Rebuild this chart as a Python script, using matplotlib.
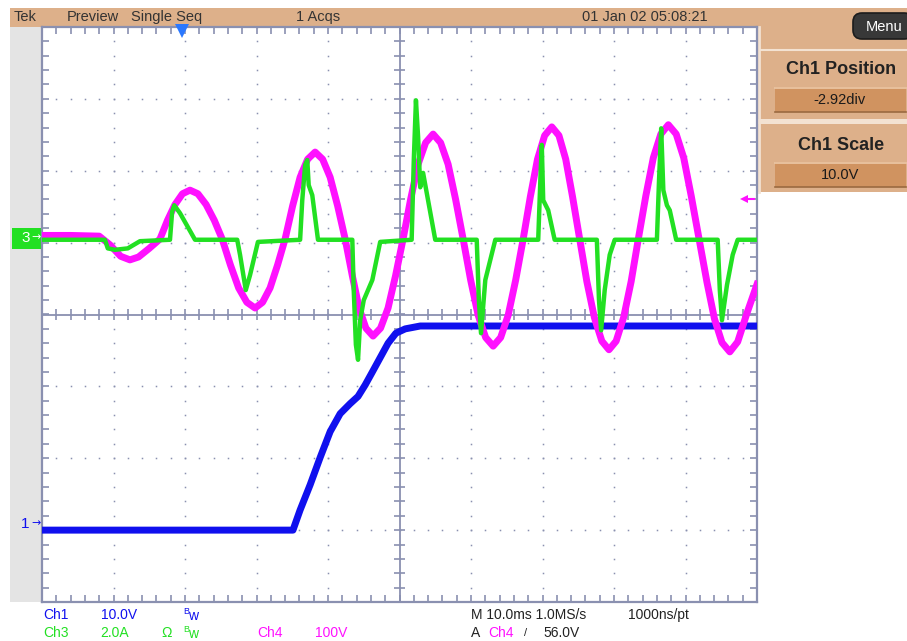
"""
示波器截图复刻 (Tek 单次采集)
"""

import matplotlib
matplotlib.use('Agg')
import matplotlib.pyplot as plt
from matplotlib.patches import Rectangle, FancyBboxPatch
import numpy as np

plt.rcParams['font.family'] = ['Liberation Sans', 'DejaVu Sans']

# 时间 (ms, 10ms/div), 幅值 (div)
pink_t = [0, 4, 8, 9.5, 11, 12.3, 13.5, 15,
          16.5, 17.55, 18.6, 19.65, 20.7, 21.8, 22.95, 24.1,
          25.2, 26.35, 27.5, 28.65, 29.8, 30.85, 31.9, 32.95,
          34.0, 35.05, 36.1, 37.15, 38.2, 39.25, 40.3, 41.35,
          42.4, 43.4, 44.35, 45.3, 46.3, 47.35, 48.4, 49.45,
          50.5, 51.55, 52.6, 53.65, 54.7, 55.75, 56.8, 57.85,
          58.9, 59.95, 61.0, 62.05, 63.1, 64.15, 65.2, 66.25,
          67.3, 68.3, 69.3, 70.3, 71.3, 72.3, 73.25, 74.2,
          75.2, 76.2, 77.25, 78.3, 79.3, 80.3, 81.35, 82.4,
          83.4, 84.45, 85.5, 86.55, 87.6, 88.7, 89.75, 90.8,
          91.9, 93.0, 94.05, 95.1, 96.2, 97.3, 98.6, 100]
pink_v = [1.10, 1.10, 1.09, 0.97, 0.81, 0.76, 0.80, 0.92,
          1.05, 1.31, 1.53, 1.68, 1.73, 1.68, 1.53, 1.31,
          1.05, 0.69, 0.37, 0.17, 0.09, 0.17, 0.37, 0.69,
          1.05, 1.51, 1.91, 2.16, 2.26, 2.16, 1.91, 1.51,
          1.05, 0.54, 0.09, -0.19, -0.30, -0.19, 0.09, 0.54,
          1.05, 1.60, 2.09, 2.39, 2.51, 2.39, 2.09, 1.60,
          1.05, 0.48, -0.01, -0.32, -0.44, -0.32, -0.01, 0.48,
          1.05, 1.64, 2.16, 2.49, 2.61, 2.49, 2.16, 1.64,
          1.05, 0.46, -0.04, -0.37, -0.49, -0.37, -0.04, 0.46,
          1.05, 1.65, 2.18, 2.51, 2.64, 2.51, 2.18, 1.65,
          1.05, 0.45, -0.06, -0.39, -0.52, -0.38, 0.02, 0.42]

green_t = [0, 8.8, 9.2, 10.2, 12.0, 13.7, 17.9, 18.2, 18.5, 19.3, 21.4,
           27.3, 27.7, 28.5, 29.1, 30.2, 36.1, 36.4, 36.8, 37.1, 37.3, 37.8, 38.6,
           43.4, 43.6, 43.9, 44.2, 44.5, 45.0, 46.2, 47.3, 51.7, 52.0, 52.3, 52.6,
           52.9, 53.3, 55.0, 60.8, 61.1, 61.4, 62.0, 62.7, 63.4, 69.4, 69.7, 69.9,
           70.1, 70.8, 71.7, 77.6, 77.9, 78.2, 78.7, 79.4, 80.1, 86.0, 86.3, 86.6,
           86.9, 87.4, 87.8, 88.7, 94.5, 94.8, 95.1, 95.8, 96.6, 97.3, 100]
green_v = [1.04, 1.04, 0.92, 0.90, 0.92, 1.02, 1.04, 1.43, 1.52, 1.41, 1.04,
           1.04, 0.83, 0.34, 0.55, 1.01, 1.04, 1.59, 2.08, 2.15, 1.80, 1.66, 1.04,
           1.04, 0.34, -0.42, -0.63, -0.08, 0.20, 0.48, 1.01, 1.04, 2.15, 2.98, 2.47,
           1.77, 1.97, 1.04, 1.04, 0.20, -0.26, 0.48, 0.76, 1.04, 1.04, 1.87, 2.36,
           1.59, 1.45, 1.04, 1.04, 0.20, -0.22, 0.34, 0.83, 1.04, 1.04, 1.87, 2.59,
           1.73, 1.52, 1.45, 1.04, 1.04, 0.34, -0.08, 0.41, 0.83, 1.04, 1.04]

blue_t = [0, 35.1, 36.1, 37.5, 38.9, 40.3, 41.7, 43.1, 44.2, 45.2, 46.2, 47.3,
          48.4, 49.5, 50.8, 52.9, 100]
blue_v = [-3.00, -3.00, -2.72, -2.37, -1.99, -1.63, -1.38, -1.24, -1.14, -0.98, -0.80, -0.60,
          -0.40, -0.26, -0.20, -0.16, -0.16]

trig_time = 19.6
trig_level = 1.61

TAN = '#ddb08a'
BOX = '#d09360'
GRID = '#8a90b0'
BLUE = '#1010ee'
PINK = '#ff10ff'
GREEN = '#22e022'
W, H = 907, 641


def draw_grid(ax):
    """网格、中心十字和边框刻度"""
    dots_y = np.arange(-4, 4.001, 0.2)
    dots_x = np.arange(0, 100.001, 2)
    for i in range(1, 10):
        if i == 5:
            continue
        ax.plot([i * 10] * len(dots_y), dots_y, ls='none', marker='s', ms=1.1,
                mew=0, color=GRID, zorder=1)
    for j in range(-3, 4):
        if j == 0:
            continue
        ax.plot(dots_x, [j] * len(dots_x), ls='none', marker='s', ms=1.1,
                mew=0, color=GRID, zorder=1)

    ax.axvline(50, color=GRID, lw=1.3, zorder=1)
    ax.axhline(0, color=GRID, lw=1.3, zorder=1)
    ax.hlines(dots_y, 49.2, 50.8, color=GRID, lw=1.2, zorder=1)
    ax.vlines(dots_x, -0.07, 0.07, color=GRID, lw=1.2, zorder=1)
    # 边框内侧刻度
    ax.vlines(dots_x, 3.9, 4, color=GRID, lw=1.2, zorder=1)
    ax.vlines(dots_x, -4, -3.9, color=GRID, lw=1.2, zorder=1)
    ax.hlines(dots_y, 0, 1.0, color=GRID, lw=1.2, zorder=1)
    ax.hlines(dots_y, 99.0, 100, color=GRID, lw=1.2, zorder=1)


def draw_frame(bg):
    """顶部状态栏、右侧菜单、底部通道信息"""
    bg.add_patch(Rectangle((10, 8), W - 10, 19, fc=TAN, ec='none'))
    bg.add_patch(Rectangle((10, 27), 32, 575, fc='#e4e4e4', ec='none'))
    bg.add_patch(Rectangle((757, 27), W - 757, 165, fc=TAN, ec='none'))
    bg.add_patch(Rectangle((757, 119), W - 757, 5, fc='#f3e2d2', ec='none'))
    bg.plot([760, 907], [49.5, 49.5], color='#f3e2d2', lw=1.5)
    bg.plot([759, 759], [27, 192], color='#f3e2d2', lw=2)

    top = dict(fontsize=10.5, color='#333333', va='center', ha='left')
    bg.text(14, 17, 'Tek', **top)
    bg.text(67, 17, 'Preview', **top)
    bg.text(131, 17, 'Single Seq', **top)
    bg.text(296, 17, '1 Acqs', **top)
    bg.text(582, 17, '01 Jan 02 05:08:21', **top)

    bg.add_patch(FancyBboxPatch((853, 13), 60, 26, boxstyle='round,pad=0,rounding_size=9',
                                fc='#383838', ec='#1c1c1c', lw=1.2))
    bg.text(866, 27, 'Menu', fontsize=10.5, color='white', va='center', ha='left')

    for ty, by, title, value in [(70, 87, 'Ch1 Position', '-2.92div'),
                                 (145, 162, 'Ch1 Scale', '10.0V')]:
        bg.text(841, ty, title, fontsize=13, fontweight='bold', color='#222222',
                va='center', ha='center')
        bg.add_patch(Rectangle((775, by), 131, 25, fc=BOX, ec='none'))
        bg.plot([775, 906], [by + 0.5, by + 0.5], color='#ecc9a8', lw=1.2)
        bg.plot([775, 906], [by + 25, by + 25], color='#9a6a40', lw=1.2)
        bg.text(840, by + 13, value, fontsize=10.5, color='#1a1a1a', va='center', ha='center')

    # 通道标记
    bg.add_patch(Rectangle((12, 228), 30, 21, fc=GREEN, ec='none'))
    bg.text(21, 238.5, '3', fontsize=11, color='white', va='center', ha='left')
    bg.text(31, 237.5, '→', fontsize=8, color='white', va='center', ha='left',
            family=['DejaVu Sans'])
    bg.text(21, 524, '1', fontsize=11, color=BLUE, va='center', ha='left')
    bg.text(31, 523, '→', fontsize=8, color=BLUE, va='center', ha='left',
            family=['DejaVu Sans'])

    row = dict(fontsize=10, va='center', ha='left')
    bg.text(43, 615, 'Ch1', color=BLUE, **row)
    bg.text(101, 615, '10.0V', color=BLUE, **row)
    bg.text(183, 611, 'B', color=BLUE, fontsize=6.5, va='center', ha='left')
    bg.text(188, 616, 'w', color=BLUE, **row)
    bg.text(43, 633, 'Ch3', color=GREEN, **row)
    bg.text(100, 633, '2.0A', color=GREEN, **row)
    bg.text(161, 633, 'Ω', color=GREEN, **row)
    bg.text(183, 629, 'B', color=GREEN, fontsize=6.5, va='center', ha='left')
    bg.text(188, 634, 'w', color=GREEN, **row)
    bg.text(257, 633, 'Ch4', color=PINK, **row)
    bg.text(315, 633, '100V', color=PINK, **row)
    bg.text(471, 615, 'M 10.0ms 1.0MS/s', color='#222222', **row)
    bg.text(628, 615, '1000ns/pt', color='#222222', **row)
    bg.text(471, 633, 'A', color='#222222', **row)
    bg.text(488, 633, 'Ch4', color=PINK, **row)
    bg.text(524, 633, '/', color='#222222', fontsize=8, va='center', ha='left')
    bg.text(543, 633, '56.0V', color='#222222', **row)


def main():
    fig = plt.figure(figsize=(W / 100, H / 100), dpi=100, facecolor='white')

    bg = fig.add_axes([0, 0, 1, 1], zorder=0)
    bg.set_xlim(0, W)
    bg.set_ylim(H, 0)
    bg.axis('off')
    draw_frame(bg)

    ax = fig.add_axes([42 / W, (H - 602) / H, 715 / W, 575 / H], zorder=2)
    ax.set_xlim(0, 100)
    ax.set_ylim(-4, 4)
    ax.set_facecolor('white')
    ax.set_xticks([])
    ax.set_yticks([])
    for sp in ax.spines.values():
        sp.set_color(GRID)
        sp.set_linewidth(1.6)
    draw_grid(ax)

    ax.plot(blue_t, blue_v, color=BLUE, lw=5, zorder=3, solid_joinstyle='round')
    ax.plot(pink_t, pink_v, color=PINK, lw=5, zorder=4, solid_joinstyle='round')
    ax.plot(green_t, green_v, color=GREEN, lw=3.2, zorder=5, solid_joinstyle='round')

    # 触发位置与电平
    ax.plot([trig_time], [3.95], marker='v', ms=10, color='#2a78ff', mew=0,
            clip_on=False, zorder=6)
    ax.plot([98.4, 99.6], [trig_level, trig_level], color=PINK, lw=1.5, zorder=6)
    ax.plot([98.2], [trig_level], marker='<', ms=6, color=PINK, mew=0, zorder=6)

    fig.savefig('out.png', dpi=100, facecolor='white')
    plt.close(fig)


if __name__ == '__main__':
    main()
